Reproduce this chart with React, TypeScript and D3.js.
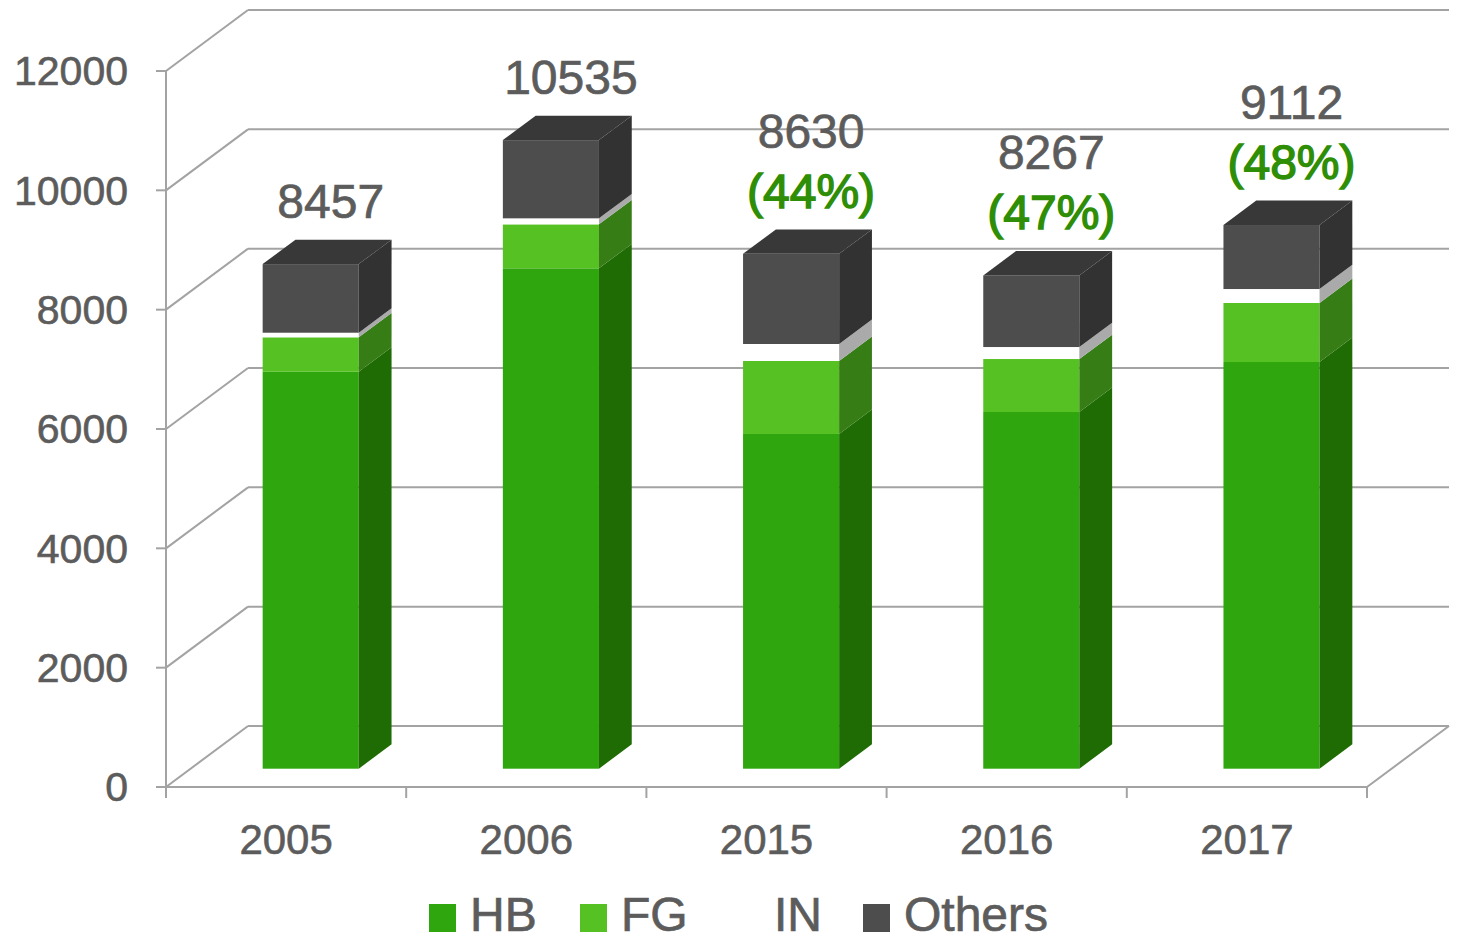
import React from "react";
import * as d3 from "d3";

const categories = ["2005", "2006", "2015", "2016", "2017"];
const hbValues = [6653, 8386, 5610, 5978, 6816];
const fgValues = [577, 737, 1223, 888, 989];
const inValues = [77, 101, 285, 201, 234];
const otherValues = [1150, 1311, 1512, 1200, 1073];
const totalLabels = ["8457", "10535", "8630", "8267", "9112"];
const shareLabels = ["", "", "(44%)", "(47%)", "(48%)"];
const seriesNames = ["HB", "FG", "IN", "Others"];
const yTicks = [0, 2000, 4000, 6000, 8000, 10000, 12000];

const W = 1458;
const H = 943;
const DX = 82; // depth offset of the back wall
const DY = -61;
const FRONT = 0.3; // bar front sits at 30% depth
const DEPTH = 0.4; // bar depth as share of full depth
const FONT = "'Liberation Sans', Arial, Helvetica, sans-serif";
const GRID = "#A3A3A3";
const TEXT = "#5C5C5C";

const colors: Record<string, { front: string; side: string; top: string }> = {
  HB: { front: "#2FA60D", side: "#1F6B04", top: "#2A9A0B" },
  FG: { front: "#55C123", side: "#367D16", top: "#4BAF1F" },
  IN: { front: "#FFFFFF", side: "#AAAAAA", top: "#E0E0E0" },
  Others: { front: "#4D4D4D", side: "#323232", top: "#383838" },
};

const rows = categories.map((c, i) => ({
  cat: c,
  HB: hbValues[i],
  FG: fgValues[i],
  IN: inValues[i],
  Others: otherValues[i],
}));

const poly = (pts: [number, number][]) => "M" + pts.map((p) => p.join(",")).join("L") + "Z";

export default function App() {
  const x = d3.scaleBand<string>().domain(categories).range([166, 1367]);
  const y = d3.scaleLinear().domain([0, 12000]).range([787, 71]);
  const stack = d3.stack<any>().keys(seriesNames)(rows);

  const bw = x.bandwidth();
  const barW = DEPTH * bw;
  const sdx = DEPTH * DX;
  const sdy = DEPTH * DY;
  const fx = (c: string) => (x(c) as number) + 0.3 * bw + FRONT * DX;
  const fy = (v: number) => y(v) + FRONT * DY;

  const x0 = 166;
  const x1 = 1367;

  return (
    <svg width={W} height={H} style={{ position: "absolute", left: 0, top: 0, background: "#fff" }}>
      {/* back wall gridlines */}
      {yTicks.map((t) => (
        <line key={"g" + t} x1={x0 + DX} x2={x1 + DX} y1={y(t) + DY} y2={y(t) + DY} stroke={GRID} strokeWidth={2} />
      ))}
      {/* side wall diagonals */}
      {yTicks.map((t) => (
        <line key={"d" + t} x1={x0} x2={x0 + DX} y1={y(t)} y2={y(t) + DY} stroke={GRID} strokeWidth={2} />
      ))}
      {/* floor right edge */}
      <line x1={x1} y1={y(0)} x2={x1 + DX} y2={y(0) + DY} stroke={GRID} strokeWidth={2} />
      {/* y axis */}
      <line x1={x0} x2={x0} y1={y(0)} y2={y(12000)} stroke={GRID} strokeWidth={2} />
      {yTicks.map((t) => (
        <g key={"t" + t}>
          <line x1={x0 - 10} x2={x0} y1={y(t)} y2={y(t)} stroke={GRID} strokeWidth={2} />
          <text x={128} y={y(t)} dy="0.35em" textAnchor="end" fontFamily={FONT} fontSize={41}
            fill={TEXT} stroke={TEXT} strokeWidth={0.6}>
            {t}
          </text>
        </g>
      ))}
      {/* x axis */}
      <line x1={x0} x2={x1} y1={y(0)} y2={y(0)} stroke={GRID} strokeWidth={2} />
      {categories.concat(["end"]).map((c, i) => {
        const tx = i < categories.length ? (x(c) as number) : x1;
        return <line key={"xt" + i} x1={tx} x2={tx} y1={y(0)} y2={y(0) + 11} stroke={GRID} strokeWidth={2} />;
      })}
      {categories.map((c) => (
        <text key={"xl" + c} x={(x(c) as number) + bw / 2} y={854} textAnchor="middle" fontFamily={FONT} fontSize={42}
          fill={TEXT} stroke={TEXT} strokeWidth={0.6}>
          {c}
        </text>
      ))}
      {/* bars */}
      {categories.map((c, i) => {
        const left = fx(c);
        const right = left + barW;
        return (
          <g key={"b" + c}>
            {stack.map((s, si) => {
              const [v0, v1] = s[i];
              const col = colors[s.key];
              const yb = fy(v0);
              const yt = fy(v1);
              const isTop = si === stack.length - 1;
              return (
                <g key={s.key}>
                  <rect x={left} y={yt} width={barW} height={yb - yt} fill={col.front} />
                  <path
                    d={poly([
                      [right, yb],
                      [right + sdx, yb + sdy],
                      [right + sdx, yt + sdy],
                      [right, yt],
                    ])}
                    fill={col.side}
                  />
                  {isTop && (
                    <path
                      d={poly([
                        [left, yt],
                        [left + sdx, yt + sdy],
                        [right + sdx, yt + sdy],
                        [right, yt],
                      ])}
                      fill={col.top}
                    />
                  )}
                </g>
              );
            })}
          </g>
        );
      })}
      {/* value labels */}
      {categories.map((c, i) => {
        const cx = fx(c) + barW / 2 + 20;
        const base = fy(d3.sum(stack, (s) => s[i][1] - s[i][0])) - 46;
        const hasShare = shareLabels[i] !== "";
        return (
          <g key={"l" + c} fontFamily={FONT} fontSize={48} textAnchor="middle">
            <text x={cx} y={hasShare ? base - 60 : base} fill={TEXT} stroke={TEXT} strokeWidth={0.7}>
              {totalLabels[i]}
            </text>
            {hasShare && (
              <text x={cx} y={base} fill="#2E8E06" stroke="#2E8E06" strokeWidth={1.4}>
                {shareLabels[i]}
              </text>
            )}
          </g>
        );
      })}
      {/* legend */}
      {seriesNames.map((n, i) => {
        const lx = [429, 580, 733, 863][i];
        return (
          <g key={"lg" + n}>
            <rect x={lx} y={904} width={27} height={28} fill={colors[n].front} />
            <text x={lx + 41} y={931} fontFamily={FONT} fontSize={48} fill={TEXT} stroke={TEXT} strokeWidth={0.7}>
              {n}
            </text>
          </g>
        );
      })}
    </svg>
  );
}
